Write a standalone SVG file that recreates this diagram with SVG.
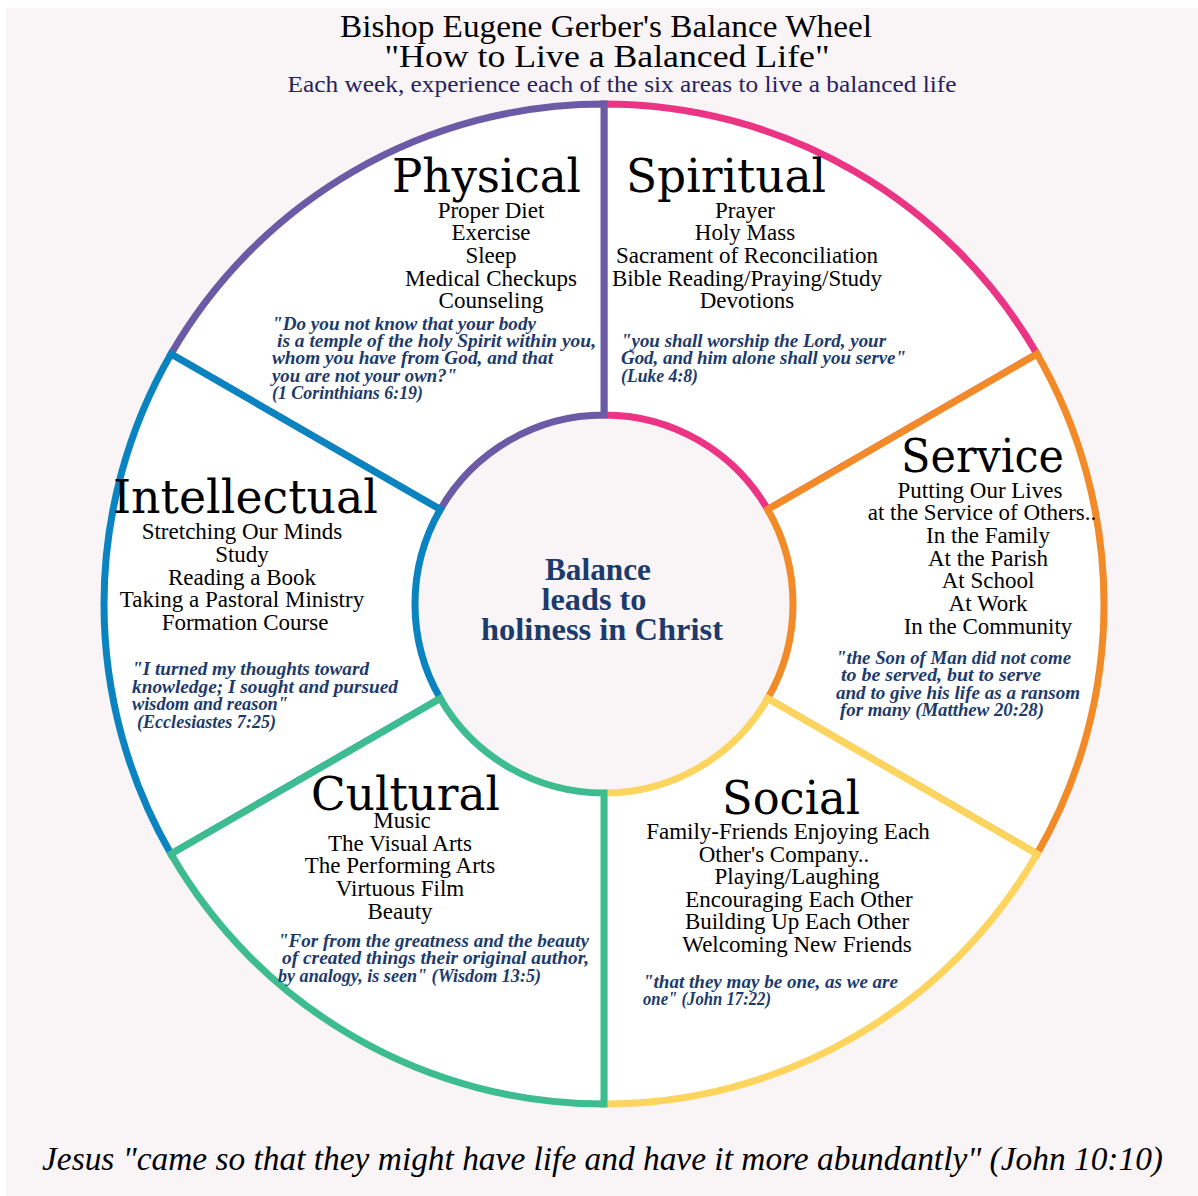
<svg xmlns="http://www.w3.org/2000/svg" width="1198" height="1196" viewBox="0 0 1198 1196">
<style>
.ttl{font-family:"Liberation Serif",serif;fill:#000;text-anchor:middle}
.sub{font-family:"Liberation Serif",serif;fill:#27215e;text-anchor:middle;font-size:23px}
.hd{font-family:"DejaVu Serif",serif;font-size:46px;fill:#000}
.it{font-family:"Liberation Serif",serif;font-size:23px;fill:#000;text-anchor:middle}
.q{font-family:"Liberation Serif",serif;font-size:18px;font-style:italic;font-weight:bold;fill:#1c3b6c}
.ctr{font-family:"Liberation Serif",serif;font-size:31px;font-weight:bold;fill:#1c3b6c;text-anchor:middle}
.ft{font-family:"Liberation Serif",serif;font-size:34px;font-style:italic;fill:#000}
.seg{fill:#fff;stroke-width:7;stroke-linejoin:miter}
</style>
<rect x="0" y="0" width="1198" height="1196" fill="#fff"/>
<rect x="6" y="8" width="1192" height="1188" fill="#f9f5f7"/>
<g id="title">
<text class="ttl" x="606" y="37" font-size="31" textLength="532" lengthAdjust="spacingAndGlyphs">Bishop Eugene Gerber's Balance Wheel</text>
<text class="ttl" x="607" y="67" font-size="31" textLength="445" lengthAdjust="spacingAndGlyphs">"How to Live a Balanced Life"</text>
<text class="sub" x="622" y="92" textLength="669" lengthAdjust="spacingAndGlyphs">Each week, experience each of the six areas to live a balanced life</text>
</g>
<circle cx="604" cy="604" r="189" fill="#f9f5f7"/>
<g id="wheel">
<path id="seg-spiritual" class="seg" stroke="#ec3485" d="M1037,354 A500,500 0 0 0 604,104 L604,415 A189,189 0 0 1 767.7,509.5 Z"/>
<path id="seg-physical" class="seg" stroke="#6b5ba6" d="M604,104 A500,500 0 0 0 171,354 L440.3,509.5 A189,189 0 0 1 604,415 Z"/>
<path id="seg-intellectual" class="seg" stroke="#0a83c1" d="M171,354 A500,500 0 0 0 171,854 L440.3,698.5 A189,189 0 0 1 440.3,509.5 Z"/>
<path id="seg-service" class="seg" stroke="#f18a27" d="M1037,854 A500,500 0 0 0 1037,354 L767.7,509.5 A189,189 0 0 1 767.7,698.5 Z"/>
<path id="seg-social" class="seg" stroke="#fdd55e" d="M604,1104 A500,500 0 0 0 1037,854 L767.7,698.5 A189,189 0 0 1 604,793 Z"/>
<path id="seg-cultural" class="seg" stroke="#3dbd8f" d="M171,854 A500,500 0 0 0 604,1104 L604,793 A189,189 0 0 1 440.3,698.5 Z"/>
</g>
<g id="physical">
<text class="hd" x="392" y="192" textLength="189" lengthAdjust="spacingAndGlyphs">Physical</text>
<text class="it" x="491" y="218">Proper Diet</text>
<text class="it" x="491" y="240">Exercise</text>
<text class="it" x="491" y="263">Sleep</text>
<text class="it" x="491" y="286">Medical Checkups</text>
<text class="it" x="491" y="308">Counseling</text>
<text class="q" x="272" y="330" textLength="264" lengthAdjust="spacingAndGlyphs">"Do you not know that your body</text>
<text class="q" x="277" y="347" textLength="319" lengthAdjust="spacingAndGlyphs">is a temple of the holy Spirit within you,</text>
<text class="q" x="272" y="364" textLength="281" lengthAdjust="spacingAndGlyphs">whom you have from God, and that</text>
<text class="q" x="272" y="382" textLength="185" lengthAdjust="spacingAndGlyphs">you are not your own?"</text>
<text class="q" x="272" y="399" textLength="151" lengthAdjust="spacingAndGlyphs">(1 Corinthians 6:19)</text>
</g>
<g id="spiritual">
<text class="hd" x="626" y="192" textLength="200" lengthAdjust="spacingAndGlyphs">Spiritual</text>
<text class="it" x="745" y="218">Prayer</text>
<text class="it" x="745" y="240">Holy Mass</text>
<text class="it" x="747" y="263">Sacrament of Reconciliation</text>
<text class="it" x="747" y="286">Bible Reading/Praying/Study</text>
<text class="it" x="747" y="308">Devotions</text>
<text class="q" x="621" y="347" textLength="265" lengthAdjust="spacingAndGlyphs">"you shall worship the Lord, your</text>
<text class="q" x="621" y="364" textLength="285" lengthAdjust="spacingAndGlyphs">God, and him alone shall you serve"</text>
<text class="q" x="621" y="382" textLength="77" lengthAdjust="spacingAndGlyphs">(Luke 4:8)</text>
</g>
<g id="service">
<text class="hd" x="901" y="472" textLength="163" lengthAdjust="spacingAndGlyphs">Service</text>
<text class="it" x="980" y="498">Putting Our Lives</text>
<text class="it" x="982" y="520">at the Service of Others..</text>
<text class="it" x="988" y="543">In the Family</text>
<text class="it" x="988" y="566">At the Parish</text>
<text class="it" x="988" y="588">At School</text>
<text class="it" x="988" y="611">At Work</text>
<text class="it" x="988" y="634">In the Community</text>
<text class="q" x="836" y="664" textLength="235" lengthAdjust="spacingAndGlyphs">"the Son of Man did not come</text>
<text class="q" x="841" y="681" textLength="200" lengthAdjust="spacingAndGlyphs">to be served, but to serve</text>
<text class="q" x="836" y="699" textLength="244" lengthAdjust="spacingAndGlyphs">and to give his life as a ransom</text>
<text class="q" x="840" y="716" textLength="204" lengthAdjust="spacingAndGlyphs">for many (Matthew 20:28)</text>
</g>
<g id="intellectual">
<text class="hd" x="113" y="513" textLength="265" lengthAdjust="spacingAndGlyphs">Intellectual</text>
<text class="it" x="242" y="539">Stretching Our Minds</text>
<text class="it" x="242" y="562">Study</text>
<text class="it" x="242" y="585">Reading a Book</text>
<text class="it" x="242" y="607">Taking a Pastoral Ministry</text>
<text class="it" x="245" y="630">Formation Course</text>
<text class="q" x="132" y="675" textLength="237" lengthAdjust="spacingAndGlyphs">"I turned my thoughts toward</text>
<text class="q" x="132" y="693" textLength="266" lengthAdjust="spacingAndGlyphs">knowledge; I sought and pursued</text>
<text class="q" x="132" y="710" textLength="156" lengthAdjust="spacingAndGlyphs">wisdom and reason"</text>
<text class="q" x="137" y="728" textLength="139" lengthAdjust="spacingAndGlyphs">(Ecclesiastes 7:25)</text>
</g>
<g id="cultural">
<text class="hd" x="311" y="810" textLength="189" lengthAdjust="spacingAndGlyphs">Cultural</text>
<text class="it" x="402" y="828">Music</text>
<text class="it" x="400" y="851">The Visual Arts</text>
<text class="it" x="400" y="873">The Performing Arts</text>
<text class="it" x="400" y="896">Virtuous Film</text>
<text class="it" x="400" y="919">Beauty</text>
<text class="q" x="278" y="947" textLength="311" lengthAdjust="spacingAndGlyphs">"For from the greatness and the beauty</text>
<text class="q" x="282" y="964" textLength="307" lengthAdjust="spacingAndGlyphs">of created things their original author,</text>
<text class="q" x="278" y="982" textLength="263" lengthAdjust="spacingAndGlyphs">by analogy, is seen" (Wisdom 13:5)</text>
</g>
<g id="social">
<text class="hd" x="722" y="814" textLength="138" lengthAdjust="spacingAndGlyphs">Social</text>
<text class="it" x="788" y="839">Family-Friends Enjoying Each</text>
<text class="it" x="784" y="862">Other's Company..</text>
<text class="it" x="797" y="884">Playing/Laughing</text>
<text class="it" x="799" y="907">Encouraging Each Other</text>
<text class="it" x="797" y="929">Building Up Each Other</text>
<text class="it" x="797" y="952">Welcoming New Friends</text>
<text class="q" x="643" y="988" textLength="255" lengthAdjust="spacingAndGlyphs">"that they may be one, as we are</text>
<text class="q" x="643" y="1005" textLength="128" lengthAdjust="spacingAndGlyphs">one" (John 17:22)</text>
</g>
<g id="center">
<text class="ctr" x="598" y="580" textLength="106" lengthAdjust="spacingAndGlyphs">Balance</text>
<text class="ctr" x="594" y="610" textLength="105" lengthAdjust="spacingAndGlyphs">leads to</text>
<text class="ctr" x="602" y="640" textLength="242" lengthAdjust="spacingAndGlyphs">holiness in Christ</text>
</g>
<g id="footer">
<text class="ft" x="42" y="1170" textLength="1121" lengthAdjust="spacingAndGlyphs">Jesus "came so that they might have life and have it more abundantly" (John 10:10)</text>
</g>
</svg>
